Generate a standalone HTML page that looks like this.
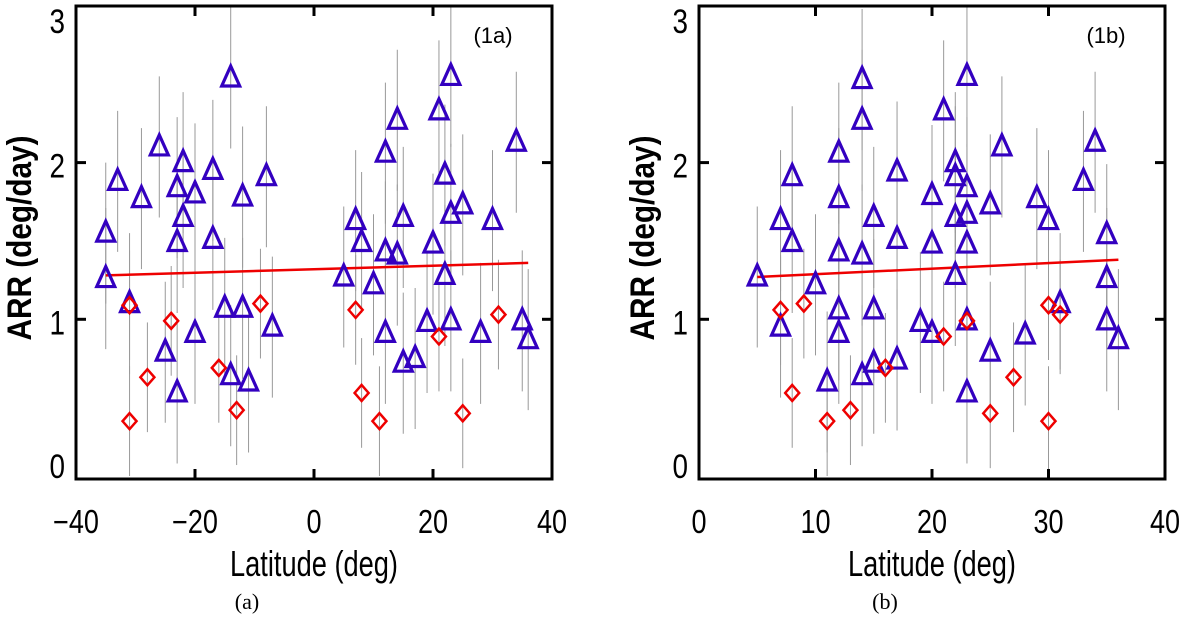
<!DOCTYPE html>
<html><head><meta charset="utf-8"><style>
html,body{margin:0;padding:0;background:#fff;width:1200px;height:620px;overflow:hidden}
svg text{font-family:"Liberation Sans",sans-serif;fill:#000}
</style></head><body>
<svg id="chart" width="1200" height="620" viewBox="0 0 1200 620" xmlns="http://www.w3.org/2000/svg"></svg>
<script>
// Panel (a) data
const aTriLat=[-35,-35,-33,-31,-29,-26,-25,-23,-23,-23,-22,-22,-20,-20,-17,-17,-15,-14,-14,-12,-12,-11,-8,-7,5,7,8,10,12,12,12,14,14,15,15,17,19,20,21,22,22,23,23,23,25,28,30,34,35,36];
const aTriArr=[1.55,1.26,1.88,1.10,1.77,2.10,0.79,1.84,1.49,0.53,2.0,1.65,1.80,0.91,1.95,1.51,1.07,2.54,0.64,1.07,1.78,0.60,1.91,0.95,1.27,1.63,1.49,1.22,2.06,1.43,0.91,2.27,1.41,1.65,0.72,0.75,0.98,1.48,2.33,1.92,1.28,2.55,1.67,0.99,1.73,0.91,1.63,2.13,0.99,0.87];
const aDiaLat=[-31,-31,-28,-24,-16,-13,-9,7,8,11,21,25,31];
const aDiaArr=[1.09,0.35,0.63,0.99,0.69,0.42,1.10,1.06,0.53,0.35,0.89,0.40,1.03];
const aFitLat=[-35,36];
const aFitArr=[1.28,1.36];
// Panel (b) data
const bTriLat=[5,7,7,8,8,10,11,12,12,12,12,12,14,14,14,14,15,15,15,17,17,17,19,20,20,20,21,22,22,22,22,23,23,23,23,23,23,25,25,26,28,29,30,31,33,34,35,35,35,36];
const bTriArr=[1.27,1.63,0.95,1.91,1.49,1.22,0.60,2.06,1.77,1.43,1.06,0.91,2.53,2.27,1.41,0.64,1.65,1.06,0.72,1.94,1.51,0.74,0.98,1.79,1.48,0.91,2.33,2.0,1.91,1.65,1.28,2.55,1.84,1.67,1.48,0.99,0.53,1.73,0.79,2.10,0.90,1.77,1.63,1.10,1.88,2.13,1.54,1.26,0.99,0.87];
const bDiaLat=[7,8,9,11,13,16,21,23,25,27,30,30,31];
const bDiaArr=[1.06,0.53,1.10,0.35,0.42,0.69,0.89,0.99,0.40,0.63,1.09,0.35,1.03];
const bFitLat=[5,36];
const bFitArr=[1.27,1.38];
const errTri=0.45, errDia=0.35;
const aXTicks=[-40,-20,0,20,40];
const bXTicks=[0,10,20,30,40];
const yTicks=[0,1,2,3];

const NS="http://www.w3.org/2000/svg";
const svg=document.getElementById('chart');
function mk(tag,attrs,parent){const e=document.createElementNS(NS,tag);for(const k in attrs)e.setAttribute(k,attrs[k]);(parent||svg).appendChild(e);return e;}
const Y=v=>476-v*156.7;

function panel(id,x0,x1,xmin,xmax,xticks,triLat,triArr,diaLat,diaArr,fitLat,fitArr,tag,cap,capX){
  const X=v=>x0+(v-xmin)/(xmax-xmin)*(x1-x0);
  const g=mk('g',{});
  
  
  triLat.forEach((la,i)=>{const l=mk('line',{x1:X(la),x2:X(la),y1:Y(Math.min(3,triArr[i]+errTri)),y2:Y(Math.max(0,triArr[i]-errTri)),stroke:'#999','stroke-width':1},g);
    });
  diaLat.forEach((la,i)=>{const l=mk('line',{x1:X(la),x2:X(la),y1:Y(diaArr[i]+errDia),y2:Y(Math.max(0,diaArr[i]-errDia)),stroke:'#999','stroke-width':1},g);
    });
  const f=mk('line',{x1:X(fitLat[0]),y1:Y(fitArr[0]),x2:X(fitLat[1]),y2:Y(fitArr[1]),stroke:'#e00','stroke-width':2.5},g);
  
  triLat.forEach((la,i)=>{const cx=X(la),cy=Y(triArr[i]);
    const p=mk('polygon',{points:`${cx-9},${cy+8} ${cx+9},${cy+8} ${cx},${cy-12}`,fill:'none',stroke:'#3300c0','stroke-width':3.2,'stroke-linejoin':'miter'},g);
    });
  diaLat.forEach((la,i)=>{const cx=X(la),cy=Y(diaArr[i]);
    const p=mk('polygon',{points:`${cx},${cy-8} ${cx+7},${cy} ${cx},${cy+8} ${cx-7},${cy}`,fill:'none',stroke:'#e00','stroke-width':2.5},g);
    });
  const fr=mk('rect',{x:x0,y:6,width:x1-x0,height:473,fill:'none',stroke:'#000','stroke-width':3},g);
  
  xticks.forEach(t=>{const x=X(t);
    mk('line',{x1:x,x2:x,y1:479,y2:469,stroke:'#000','stroke-width':3},g);
    mk('line',{x1:x,x2:x,y1:6,y2:16,stroke:'#000','stroke-width':3},g);
    const tx=mk('text',{x:x,y:533,'font-size':33,'text-anchor':'middle',transform:`translate(${x},0) scale(0.82,1) translate(${-x},0)`},g);
    tx.textContent=(t<0?'\u2212':'')+Math.abs(t);
    });
  yTicks.forEach(t=>{const y=Y(t);
    if(t>0&&t<3){mk('line',{x1:x0,x2:x0+10,y1:y,y2:y,stroke:'#000','stroke-width':3},g);
    mk('line',{x1:x1,x2:x1-10,y1:y,y2:y,stroke:'#000','stroke-width':3},g);}
    const by=Math.max(33,Math.min(y+15,478));
    const tx=mk('text',{x:x0-11,y:by,'font-size':34,'text-anchor':'end',transform:`translate(${x0-11},0) scale(0.82,1) translate(${-(x0-11)},0)`},g);
    tx.textContent=t;
    });
  const xl=mk('text',{x:(x0+x1)/2,y:576,'font-size':36,'text-anchor':'middle',textLength:168,lengthAdjust:'spacingAndGlyphs'},g);
  xl.textContent='Latitude (deg)';
  const yl=mk('text',{x:0,y:0,'font-size':34,'text-anchor':'middle','font-weight':'bold',textLength:205,lengthAdjust:'spacingAndGlyphs',transform:`translate(${x0-45},238) rotate(-90)`},g);
  yl.textContent='ARR (deg/day)';
  const tg=mk('text',{x:x1-59,y:43,'font-size':22,'text-anchor':'middle'},g);
  tg.textContent=tag;
  const cp=mk('text',{x:capX,y:609,'font-size':22,'text-anchor':'middle',style:'font-family:"Liberation Serif",serif'},g);
  cp.textContent=cap;
}
panel('a',76,552,-40,40,aXTicks,aTriLat,aTriArr,aDiaLat,aDiaArr,aFitLat,aFitArr,'(1a)','(a)',247);
panel('b',699,1165,0,40,bXTicks,bTriLat,bTriArr,bDiaLat,bDiaArr,bFitLat,bFitArr,'(1b)','(b)',885);
</script>
</body></html>
